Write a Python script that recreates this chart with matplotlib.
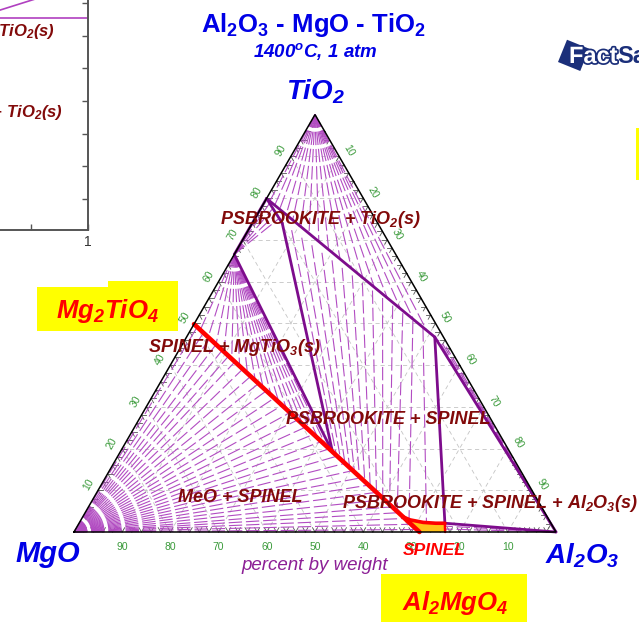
import numpy as np
import matplotlib
matplotlib.use("Agg")
import matplotlib.pyplot as plt
from matplotlib.patches import Rectangle
import matplotlib.patheffects as pe

plt.rcParams['font.family'] = ['Liberation Sans', 'DejaVu Sans']
plt.rcParams['mathtext.default'] = 'regular'

# invariant points, wt% (Al2O3, TiO2); MgO is the balance
mg2tio4 = (0.0, 49.8)
mgtio3 = (0.0, 66.5)
mgti2o5 = (0.0, 79.9)
mgal2o4 = (71.67, 0.0)
psb_kink = (6.2, 74.0)
sp_psb_mt = (44.1, 19.1)    # spinel + PSB + MgTiO3
psb_sp_al = (51.5, 46.7)    # PSB + spinel + Al2O3
sp_psb_al = (75.9, 2.1)     # spinel + PSB + Al2O3
sp_al_base = (77.0, 0.0)

# Al2O3-rich edge of the spinel field
sp_edge_al = [66.5, 68.3, 71.3, 74.0, 75.9]
sp_edge_ti = [3.6, 2.9, 2.3, 2.1, 2.1]

# tie lines: Al2O3 wt% at the end lying on the phase boundary
tie_tio2_psb = [1, 2.5, 4, 6, 8, 10.5, 13, 16, 19, 22.5, 26, 29.5, 33, 37, 41, 45, 49]
tie_mt_psb = [1.2, 2.5, 3.8, 5.0]
tie_mt_sp = [2, 4.5, 7, 9.5, 12, 14.5, 17, 19.5, 22, 24.5, 27, 29.5, 32, 34.5, 37, 39.5, 42]
tie_psb_top = [9, 12, 15, 18, 21, 24, 27, 30, 33, 36, 39, 42, 45, 48]
tie_psb_bot = [45.3, 46.6, 48.0, 49.5, 51.0, 52.6, 54.3, 56.0, 58.0, 60.0, 62.2, 64.6, 68.0, 72.0]
tie_mgo_sp = [1, 3, 5, 7, 9, 11, 13, 15.5, 18, 20.5, 23, 25.5, 28, 30.5, 33, 35.5, 38,
              40.5, 43, 45.5, 48, 50.5, 53, 55.5, 58, 60.5, 63, 65, 67, 69, 70.8]
tie_psb_al2o3 = [(52.6, 46.0), (53.8, 45.2), (55.0, 44.4)]
tie_sp_al2o3 = [(76.3, 1.4), (76.7, 0.7)]

axis_labels = [10, 20, 30, 40, 50, 60, 70, 80, 90]
minor_ticks = [v for v in range(2, 100, 2)]

PURPLE = '#7d0c8c'
DASH = '#b24cc2'
MAROON = '#820a0a'
BLUE = '#0000e6'
GREEN = '#3a9a3a'


def xy(al, ti):
    al = np.asarray(al, float) / 100
    ti = np.asarray(ti, float) / 100
    return al + ti / 2, ti * np.sqrt(3) / 2


def red_ti(al):
    return np.interp(al, [mg2tio4[0], mgal2o4[0]], [mg2tio4[1], mgal2o4[1]])


def spinel_ti(al):
    if al <= sp_edge_al[0]:
        return float(red_ti(al))
    return float(np.interp(al, sp_edge_al, sp_edge_ti))


def at(px, py):
    # page position -> triangle axes coordinates
    return (px - 74) / 482, (532 - py) / 482


fig = plt.figure(figsize=(6.39, 6.22), dpi=100)

# neighbouring panel, only its right edge is in view
side = fig.add_axes([-197 / 639, 392 / 622, 285 / 639, 330 / 622])
side.set_xlim(0, 1)
side.set_ylim(0.005, 1.015)
for s in ['top', 'left']:
    side.spines[s].set_visible(False)
for s in ['bottom', 'right']:
    side.spines[s].set_color('#555555')
    side.spines[s].set_linewidth(1.4)
side.yaxis.tick_right()
side.set_xticks([0.2, 0.4, 0.6, 0.8, 1.0])
side.set_xticklabels(['', '', '', '', '1'], fontsize=10, color='#333333')
side.set_yticks([0.1, 0.2, 0.3, 0.4, 0.5, 0.6, 0.7, 0.8, 0.9, 1.0])
side.set_yticklabels([])
side.tick_params(direction='in', length=4, width=1, colors='#555555')
side.tick_params(axis='x', labelcolor='#333333')
side.plot([0.5, 1.0], [0.654, 0.654], color='#b040c0', lw=1.2)
side.plot([0.62, 0.85], [0.6585, 0.7216], color='#b040c0', lw=1.2)
side.text(0.884, 0.599, '(s) + TiO$_2$(s)', ha='right', va='baseline', fontsize=12,
          fontweight='bold', fontstyle='italic', color=MAROON, clip_on=False)
side.text(0.912, 0.351, '(s) + TiO$_2$(s)', ha='right', va='baseline', fontsize=12,
          fontweight='bold', fontstyle='italic', color=MAROON, clip_on=False)

ax = fig.add_axes([0, 0, 1, 1])
ax.set_xlim(-74 / 482, 565 / 482)
ax.set_ylim(-90 / 482, 532 / 482)
ax.axis('off')

# 10 % grid
for v in axis_labels:
    for p, q in [((0, v), (100 - v, v)), ((v, 0), (v, 100 - v)), ((100 - v, 0), (0, 100 - v))]:
        x, y = xy([p[0], q[0]], [p[1], q[1]])
        ax.plot(x, y, color='#c4c4c4', lw=0.6, ls=(0, (5, 4)), zorder=1)

# edge ticks
tl = 5 / 482
for v in minor_ticks:
    x0, y0 = xy(v, 0)
    for dx, dy in [(0.5, 0.866), (-0.5, 0.866)]:
        ax.plot([x0, x0 + dx * tl], [y0, y0 + dy * tl], color='#555555', lw=0.6, zorder=2)
    x0, y0 = xy(0, v)
    for dx, dy in [(1, 0), (0.5, -0.866)]:
        ax.plot([x0, x0 + dx * tl], [y0, y0 + dy * tl], color='#555555', lw=0.6, zorder=2)
    x0, y0 = xy(100 - v, v)
    for dx, dy in [(-1, 0), (-0.5, -0.866)]:
        ax.plot([x0, x0 + dx * tl], [y0, y0 + dy * tl], color='#555555', lw=0.6, zorder=2)

dashed = dict(color=DASH, lw=0.8, ls=(0, (12, 3.5)), zorder=3)


def tie(p, q):
    x, y = xy([p[0], q[0]], [p[1], q[1]])
    ax.plot(x, y, **dashed)


def solid(p, q, color=PURPLE, lw=2.0, z=5):
    x, y = xy([p[0], q[0]], [p[1], q[1]])
    ax.plot(x, y, color=color, lw=lw, zorder=z, solid_capstyle='round')


# tie lines
for a in tie_tio2_psb:
    tie((0, 100), (a, np.interp(a, [mgti2o5[0], psb_sp_al[0]], [mgti2o5[1], psb_sp_al[1]])))
for a in tie_mt_psb:
    tie(mgtio3, (a, np.interp(a, [mgti2o5[0], psb_kink[0]], [mgti2o5[1], psb_kink[1]])))
for a in tie_mt_sp:
    tie(mgtio3, (a, red_ti(a)))
for a1, a2 in zip(tie_psb_top, tie_psb_bot):
    tie((a1, np.interp(a1, [psb_kink[0], psb_sp_al[0]], [psb_kink[1], psb_sp_al[1]])),
        (a2, spinel_ti(a2)))
for a in tie_mgo_sp:
    tie((0, 0), (a, red_ti(a)))
for p in tie_psb_al2o3:
    tie((100, 0), p)
for p in tie_sp_al2o3:
    tie((100, 0), p)

# spinel single-phase field
sp_al = [sp_edge_al[0]] + sp_edge_al + [sp_al_base[0], mgal2o4[0]]
sp_ti = [sp_edge_ti[0]] + sp_edge_ti + [0, 0]
px_, py_ = xy(sp_al, sp_ti)
ax.fill(px_, py_, color='#ffc21a', zorder=4, lw=0)

# phase boundaries
solid(mgtio3, mgti2o5)
solid(mgti2o5, psb_sp_al)
solid(mgti2o5, psb_kink)
solid(psb_kink, sp_psb_mt)
solid(mgtio3, sp_psb_mt)
solid(psb_sp_al, sp_psb_al)
solid(psb_sp_al, (100, 0))
solid(sp_psb_al, (100, 0))

# spinel solid solution
solid(mg2tio4, mgal2o4, color='#ff0000', lw=3.3, z=6)
ex, ey = xy(sp_edge_al, sp_edge_ti)
ax.plot(ex, ey, color='#ff0000', lw=2.6, zorder=6, solid_capstyle='round')
solid(sp_psb_al, sp_al_base, color='#ff0000', lw=1.8, z=6)

# triangle
tx, ty = xy([0, 100, 0, 0], [0, 0, 100, 0])
ax.plot(tx, ty, color='black', lw=1.1, zorder=7, solid_joinstyle='miter')

# axis numbers
for v in axis_labels:
    x, y = xy(v, 0)
    ax.text(x, y - 15 / 482, str(100 - v), ha='center', va='center', fontsize=7.5, color=GREEN, zorder=8)
    x, y = xy(0, v)
    ax.text(x - 10 / 482, y + 5.5 / 482, str(v), ha='center', va='center', fontsize=7.5,
            color=GREEN, rotation=60, zorder=8)
    x, y = xy(100 - v, v)
    ax.text(x + 10 / 482, y + 5.5 / 482, str(100 - v), ha='center', va='center', fontsize=7.5,
            color=GREEN, rotation=-60, zorder=8)

bi = dict(fontweight='bold', fontstyle='italic', ha='center', va='baseline', zorder=9)

# field labels
for label, px, py in [('PSBROOKITE + TiO$_2$(s)', 320, 224),
                      ('SPINEL + MgTiO$_3$(s)', 234, 352),
                      ('PSBROOKITE + SPINEL', 388, 424),
                      ('MeO + SPINEL', 240, 502),
                      ('PSBROOKITE + SPINEL + Al$_2$O$_3$(s)', 490, 508)]:
    ax.text(*at(px, py), label, fontsize=13, color=MAROON, **bi)

ax.text(*at(434, 555), 'SPINEL', fontsize=12.5, color='#ff0000', **bi)

# corner names and titles
ax.text(*at(314, 32), 'Al$_2$O$_3$ - MgO - TiO$_2$', fontsize=18.5, color=BLUE,
        fontweight='bold', ha='center', va='baseline')
ax.text(*at(315, 57), '1400$^o$C, 1 atm', fontsize=13.5, color=BLUE, **bi)
ax.text(*at(316, 100), 'TiO$_2$', fontsize=20, color=BLUE, **bi)
ax.text(*at(48, 562), 'MgO', fontsize=21, color=BLUE, **bi)
ax.text(*at(582, 563), 'Al$_2$O$_3$', fontsize=20, color=BLUE, **bi)
ax.text(*at(315, 570), 'percent by weight', fontsize=13.5, color='#8c1f96',
        fontstyle='italic', ha='center', va='baseline')

# compound boxes
for (x0, y0, x1, y1) in [(37, 287, 178, 331), (108, 281, 178, 288), (381, 574, 527, 622),
                         (636, 128, 639, 180)]:
    lx, ly = at(x0, y1)
    ax.add_patch(Rectangle((lx, ly), (x1 - x0) / 482, (y1 - y0) / 482,
                           facecolor='#ffff00', edgecolor='none', zorder=8))
ax.text(*at(108, 318), 'Mg$_2$TiO$_4$', fontsize=18.5, color='#ff0000', **bi)
ax.text(*at(455, 610), 'Al$_2$MgO$_4$', fontsize=18.5, color='#ff0000', **bi)

# logo
ax.add_patch(Rectangle(at(558, 62), 24 / 482, 24 / 482, angle=-22,
                       facecolor='#1b2f7a', edgecolor='none', zorder=8))
fact = ax.text(*at(569, 63), 'Fact', fontsize=17, fontweight='bold', color='white',
               ha='left', va='baseline', zorder=9,
               path_effects=[pe.withStroke(linewidth=2.5, foreground='#1b2f7a')])
fig.canvas.draw()
bb = fact.get_window_extent(fig.canvas.get_renderer())
sx, sy = ax.transData.inverted().transform((bb.x1, 0))
ax.text(sx, at(0, 63)[1], 'Sage', fontsize=17, fontweight='bold', color='#1b2f7a',
        ha='left', va='baseline', zorder=9)

fig.savefig('out.png', dpi=100)
